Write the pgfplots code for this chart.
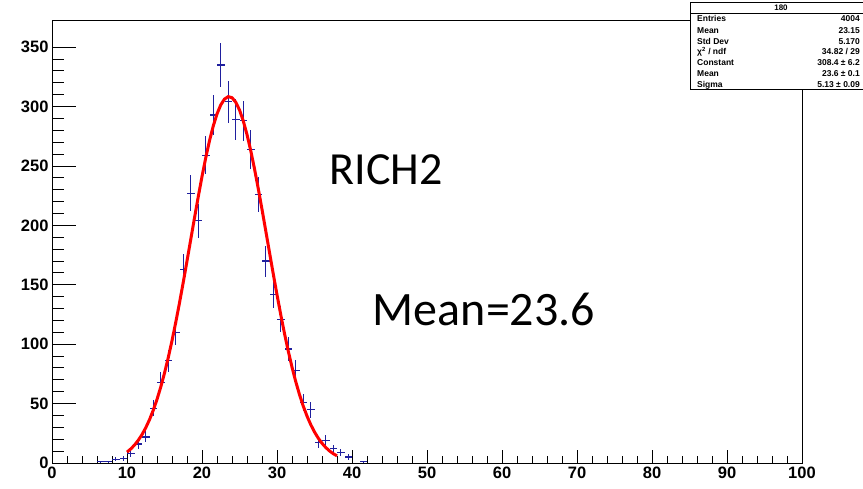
\documentclass[border=0pt]{standalone}
\usepackage{pgfplots}
\pgfplotsset{compat=1.18}
\usepackage{fontspec}
\setmainfont{Liberation Sans}
\newfontfamily\calibri{Carlito}
\definecolor{rootblue}{rgb}{0.12,0.12,0.62}
\definecolor{rootred}{rgb}{1,0,0}

\begin{document}
\begin{tikzpicture}[x=1pt,y=1pt]
\path[use as bounding box] (0,0) rectangle (863,488);
\clip (0,0) rectangle (863,488);
% y ticks (longer ticks) drawn by a separate axis of the same size
\begin{axis}[
  at={(52pt,25pt)}, anchor=south west,
  width=750pt, height=442pt, scale only axis,
  xmin=0, xmax=100, ymin=0, ymax=372,
  xtick=\empty, ytick={0,50,...,350},
  minor y tick num=4,
  tick align=inside, ytick pos=left,
  axis line style={draw=none},
  tick style={black, line width=0.9pt},
  major tick length=24pt, minor tick length=12pt,
  ticklabel style={font=\bfseries\fontsize{16.5}{16.5}\selectfont},
  /pgf/number format/assume math mode=true,
]
\end{axis}
\begin{axis}[
  at={(52pt,25pt)}, anchor=south west,
  width=750pt, height=442pt, scale only axis,
  xmin=0, xmax=100, ymin=0, ymax=372,
  xtick={0,10,...,100}, ytick=\empty,
  minor x tick num=4,
  tick align=inside, xtick pos=bottom,
  axis line style={line width=1pt},
  tick style={black, line width=0.9pt},
  major tick length=13pt, minor tick length=7pt,
  ticklabel style={font=\bfseries\fontsize{16.5}{16.5}\selectfont},
  /pgf/number format/assume math mode=true,
]
% histogram (bin centre, count) with sqrt(N) errors
\addplot[draw=none, mark=none,
  error bars/.cd, x dir=both, x explicit, y dir=both, y explicit,
  error mark=none,
  error bar style={draw=rootblue, line width=1.3pt}]
coordinates {
(6.5,1) +- (0.5,1)
(7.5,1) +- (0.5,1)
(8.5,3) +- (0.5,1.73)
(9.5,4) +- (0.5,2)
(10.5,8) +- (0.5,2.83)
(11.5,16) +- (0.5,4)
(12.5,22) +- (0.5,4.69)
(13.5,46) +- (0.5,6.78)
(14.5,68) +- (0.5,8.25)
(15.5,86) +- (0.5,9.27)
(16.5,110) +- (0.5,10.49)
(17.5,163) +- (0.5,12.77)
(18.5,227) +- (0.5,15.07)
(19.5,204) +- (0.5,14.28)
(20.5,259) +- (0.5,16.09)
(21.5,293) +- (0.5,17.12)
(22.5,335) +- (0.5,18.30)
(23.5,304) +- (0.5,17.44)
(24.5,289) +- (0.5,17.00)
(25.5,288) +- (0.5,16.97)
(26.5,264) +- (0.5,16.25)
(27.5,226) +- (0.5,15.03)
(28.5,170) +- (0.5,13.04)
(29.5,142) +- (0.5,11.92)
(30.5,121) +- (0.5,11.00)
(31.5,96) +- (0.5,9.80)
(32.5,78) +- (0.5,8.83)
(33.5,51) +- (0.5,7.14)
(34.5,45) +- (0.5,6.71)
(35.5,17) +- (0.5,4.12)
(36.5,19) +- (0.5,4.36)
(37.5,12) +- (0.5,3.46)
(38.5,9) +- (0.5,3)
(39.5,5) +- (0.5,2.24)
(41.5,1) +- (0.5,1)
};
% Gaussian fit (tabulated values)
\addplot[rootred, line width=3pt, mark=none] coordinates {
(10,9.18) (10.5,11.83) (11,15.10) (11.5,19.10) (12,23.92) (12.5,29.68)
(13,36.47) (13.5,44.40) (14,53.54) (14.5,63.95) (15,75.66) (15.5,88.67)
(16,102.93) (16.5,118.35) (17,134.80) (17.5,152.09) (18,169.97) (18.5,188.13)
(19,206.31) (19.5,224.08) (20,241.09) (20.5,256.93) (21,271.24) (21.5,283.61)
(22,293.76) (22.5,301.39) (23,306.30) (23.5,308.34) (24,307.46) (24.5,303.69)
(25,297.13) (25.5,287.96) (26,276.43) (26.5,262.86) (27,247.59) (27.5,231.00)
(28,213.48) (28.5,195.43) (29,177.23) (29.5,159.18) (30,141.62) (30.5,124.82)
(31,108.96) (31.5,94.22) (32,80.71) (32.5,68.47) (33,57.55) (33.5,47.91)
(34,39.51) (34.5,32.27) (35,26.11) (35.5,20.92) (36,16.61) (36.5,13.06)
(37,10.17) (37.5,7.85) (38,6.00)
};
\end{axis}
% annotations
\node[font=\calibri\fontsize{46}{46}\selectfont, anchor=base, inner sep=0pt] at (386,303) {RICH2};
\node[font=\calibri\fontsize{48}{48}\selectfont, anchor=base, inner sep=0pt] at (484,162) {Mean=23.6};
% statistics box
\draw[line width=1pt, fill=white] (690,485) rectangle (872,398);
\draw[line width=1pt] (690,474.5) -- (872,474.5);
\node[font=\bfseries\fontsize{8}{8}\selectfont, inner sep=0pt] at (781,479.8) {180};
\begin{scope}[every node/.style={font=\bfseries\fontsize{8.5}{8.5}\selectfont, inner sep=0pt}]
\node[anchor=west] at (697,469.7) {Entries};
\node[anchor=east] at (860,469.7) {4004};
\node[anchor=west] at (697,457.3) {Mean};
\node[anchor=east] at (860,457.3) {23.15};
\node[anchor=west] at (697,446.3) {Std Dev};
\node[anchor=east] at (860,446.3) {5.170};
\node[anchor=west] at (697,436.3) {χ\textsuperscript{2} / ndf};
\node[anchor=east] at (860,436.3) {34.82 / 29};
\node[anchor=west] at (697,425.3) {Constant};
\node[anchor=east] at (860,425.3) {308.4 ± 6.2};
\node[anchor=west] at (697,414.7) {Mean};
\node[anchor=east] at (860,414.7) {23.6 ± 0.1};
\node[anchor=west] at (697,403.0) {Sigma};
\node[anchor=east] at (860,403.0) {5.13 ± 0.09};
\end{scope}
\end{tikzpicture}
\end{document}
